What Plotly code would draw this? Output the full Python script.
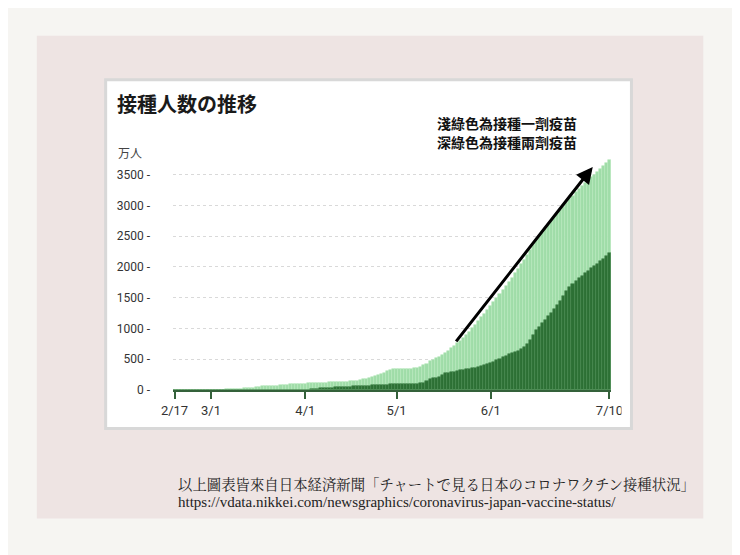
import pandas as pd
import plotly.graph_objects as go

# ---------------- data ----------------
start_date = "2021-02-17"
end_date = "2021-07-10"
dates = pd.date_range(start_date, end_date, freq="D")

# cumulative people with at least one dose (万人)
one_dose = [
    1, 1, 1, 1, 1, 1, 1, 1,
    2, 2, 2, 2,
    3, 4, 5, 6, 8, 10, 12, 15, 18,
    20, 24, 27, 32, 36, 40, 46, 54,
    58, 61, 64, 66, 69, 71,
    76, 82, 88, 93, 96, 98, 100, 103, 105,
    107, 110, 112, 114, 116, 118, 120, 122, 124, 126, 128, 130,
    133, 137, 141, 146, 150, 160, 172, 185, 202, 218, 235, 248, 260, 280, 305, 326,
    335, 337, 337, 338, 340, 343, 347, 352, 360,
    380, 402, 430, 465, 490, 512, 538, 565, 600, 640, 680, 720, 760, 800, 843, 890, 945, 1000, 1060, 1120,
    1180, 1240, 1305, 1370, 1430, 1495, 1560, 1625, 1690, 1755, 1825, 1895, 1965, 2040, 2120, 2200, 2280, 2355, 2430,
    2495, 2555, 2620, 2680, 2740, 2800, 2860, 2920, 2980, 3040, 3100, 3155, 3210, 3260, 3310, 3360, 3410, 3455,
    3500, 3545, 3595, 3640, 3690, 3740,
]

# cumulative people with two doses (万人)
two_dose = [0] * 44 + [
    8, 15, 19, 23, 27, 31, 35, 38, 40, 43, 46, 48, 50, 53, 55, 58, 60, 63, 66, 69, 72, 75, 78, 80,
    83, 86, 88, 90, 92, 93, 94, 95, 96, 97, 98, 99, 100,
    108, 120, 150, 175, 190, 200, 215, 245, 270, 282, 292, 300, 310, 318, 326, 335, 345, 353, 362, 370,
    385, 400, 420, 440, 462, 485, 510, 535, 560, 580, 600, 620, 640, 665, 700, 750, 820, 900, 975,
    1030, 1085, 1140, 1195, 1250, 1310, 1380, 1450, 1530, 1605, 1680, 1730, 1775, 1820, 1860, 1900,
    1935, 1975, 2015, 2055, 2090, 2135, 2180, 2230,
]

x_tick_dates = ["2021-02-17", "2021-03-01", "2021-04-01", "2021-05-01", "2021-06-01", "2021-07-10"]
x_tick_labels = ["2/17", "3/1", "4/1", "5/1", "6/1", "7/10"]
y_tick_values = [0, 500, 1000, 1500, 2000, 2500, 3000, 3500]
y_tick_labels = [f"{v} -" for v in y_tick_values]

title_text = "接種人数の推移"
unit_text = "万人"
note_lines = ["淺綠色為接種一劑疫苗", "深綠色為接種兩劑疫苗"]
source_line = "以上圖表皆來自日本経済新聞「チャートで見る日本のコロナワクチン接種状況」"
source_url = "https://vdata.nikkei.com/newsgraphics/coronavirus-japan-vaccine-status/"

# arrow (decoration) from / to, in data terms
arrow_tail = ("2021-05-20 05:00", 767)
arrow_head = ("2021-07-04 12:00", 3625)

# ---------------- layout geometry ----------------
W, H = 740, 555
OFF = 8  # page offset of the figure inside the browser window
PLOT_L, PLOT_R, PLOT_T, PLOT_B = 172.5, 611.5, 150.4, 390.5  # target screen pixels
ML, MT = PLOT_L - OFF, PLOT_T - OFF
MR, MB = W - (PLOT_R - OFF), H - (PLOT_B - OFF)
PW, PH = PLOT_R - PLOT_L, PLOT_B - PLOT_T


def px(x):
    return (x - PLOT_L) / PW


def py(y):
    return (PLOT_B - y) / PH


LIGHT = "#9fdca8"
LIGHT_EDGE = "#b9e7be"
DARK = "#2c7034"
DARK_EDGE = "#4a8a50"
AXIS_GREEN = "#34613a"
DAY_MS = 86400000

fig = go.Figure()
fig.add_trace(go.Bar(x=dates, y=one_dose,
                     marker=dict(color=LIGHT, line=dict(width=0.6, color=LIGHT_EDGE)),
                     width=DAY_MS, hoverinfo="skip", name="1"))
fig.add_trace(go.Bar(x=dates, y=two_dose,
                     marker=dict(color=DARK, line=dict(width=0.6, color=DARK_EDGE)),
                     width=DAY_MS, hoverinfo="skip", name="2"))

shapes = [
    # outer page colour (covers the whole window)
    dict(type="rect", xref="paper", yref="paper", x0=px(-20), x1=px(760), y0=py(575), y1=py(-20),
         fillcolor="#f6f5f2", line=dict(width=0), layer="below"),
    # pink panel
    dict(type="rect", xref="paper", yref="paper", x0=px(36), x1=px(704), y0=py(519), y1=py(36),
         fillcolor="#eee4e3", line=dict(width=0), layer="below"),
    # white chart card
    dict(type="rect", xref="paper", yref="paper", x0=px(105), x1=px(632), y0=py(429), y1=py(80),
         fillcolor="#ffffff", line=dict(width=3, color="#d8d8d8"), layer="below"),
    # clip the last tick label like the original
    dict(type="rect", xref="paper", yref="paper", x0=px(622), x1=px(630.5), y0=py(418), y1=py(394),
         fillcolor="#ffffff", line=dict(width=0), layer="above"),
]

annotations = [
    dict(text=f"<b>{title_text}</b>", xref="paper", yref="paper", x=px(114), y=py(104),
         xanchor="left", yanchor="middle", showarrow=False,
         font=dict(family="Noto Sans CJK JP", size=20, color="#1a1a1a")),
    dict(text=unit_text, xref="paper", yref="paper", x=px(115), y=py(153),
         xanchor="left", yanchor="middle", showarrow=False,
         font=dict(family="Noto Sans CJK JP", size=12, color="#444444")),
    dict(text=f"<b>{note_lines[0]}</b>", xref="paper", yref="paper", x=px(435), y=py(123),
         xanchor="left", yanchor="middle", showarrow=False,
         font=dict(family="Noto Sans CJK TC", size=14, color="#111111")),
    dict(text=f"<b>{note_lines[1]}</b>", xref="paper", yref="paper", x=px(435), y=py(142),
         xanchor="left", yanchor="middle", showarrow=False,
         font=dict(family="Noto Sans CJK TC", size=14, color="#111111")),
    dict(text=source_line, xref="paper", yref="paper", x=px(176), y=py(484),
         xanchor="left", yanchor="middle", showarrow=False,
         font=dict(family="Noto Serif CJK TC, Noto Sans CJK TC", size=14.4, color="#222222")),
    dict(text=source_url, xref="paper", yref="paper", x=px(176), y=py(503),
         xanchor="left", yanchor="middle", showarrow=False,
         font=dict(family="Liberation Serif", size=15, color="#222222")),
    dict(text="", x=arrow_head[0], y=arrow_head[1], ax=arrow_tail[0], ay=arrow_tail[1],
         xref="x", yref="y", axref="x", ayref="y", showarrow=True,
         arrowhead=2, arrowsize=1.1, arrowwidth=3, arrowcolor="#000000"),
]

fig.update_layout(
    width=W, height=H,
    margin=dict(l=ML, r=MR, t=MT, b=MB, pad=0),
    paper_bgcolor="#f6f5f2",
    plot_bgcolor="rgba(0,0,0,0)",
    barmode="overlay",
    bargap=0,
    showlegend=False,
    shapes=shapes,
    annotations=annotations,
    xaxis=dict(
        type="date",
        range=["2021-02-16 12:00", "2021-07-10 12:00"],
        tickvals=x_tick_dates, ticktext=x_tick_labels,
        showgrid=False, zeroline=False,
        showline=True, linecolor=AXIS_GREEN, linewidth=2,
        ticks="outside", ticklen=7, tickwidth=2, tickcolor=AXIS_GREEN,
        tickfont=dict(family="Roboto", size=13, color="#333333"),
        fixedrange=True,
    ),
    yaxis=dict(
        range=[0, 3900],
        tickvals=y_tick_values, ticktext=y_tick_labels,
        showgrid=True, gridcolor="#d9d9d9", griddash="dot", gridwidth=1,
        zeroline=False, showline=False, ticks="",
        ticklabelstandoff=22,
        tickfont=dict(family="Roboto", size=12, color="#333333"),
        fixedrange=True,
    ),
)

fig.write_html("out.html")
